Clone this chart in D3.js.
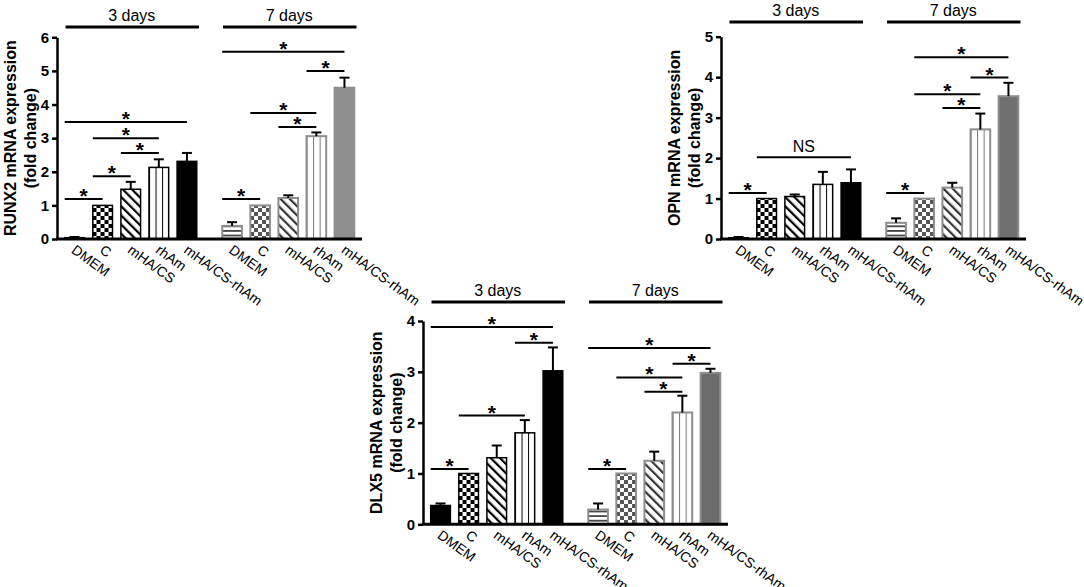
<!DOCTYPE html>
<html>
<head>
<meta charset="utf-8">
<script src="https://cdn.jsdelivr.net/npm/d3@7/dist/d3.min.js"></script>
<style>
  body { margin: 0; background: #fff; }
  text { font-family: "Liberation Sans", Arial, sans-serif; }
</style>
</head>
<body>
<svg id="chart" width="1084" height="587"></svg>
<script>
var CATEGORIES = ["DMEM", "C", "mHA/CS", "rhAm", "mHA/CS-rhAm"];
var GROUPS = ["3 days", "7 days"];

// RUNX2
var RUNX2_MEAN_3D = [0.04, 1.0, 1.48, 2.13, 2.31];
var RUNX2_ERR_3D  = [0.02, 0.0, 0.22, 0.24, 0.25];
var RUNX2_MEAN_7D = [0.39, 1.0, 1.22, 3.06, 4.50];
var RUNX2_ERR_7D  = [0.11, 0.0, 0.08, 0.11, 0.30];
var RUNX2_TICKS = [0, 1, 2, 3, 4, 5, 6];
var RUNX2_SIG = [
  ["3 days", "DMEM", "C", 1.19, "*"],
  ["3 days", "C", "mHA/CS", 1.87, "*"],
  ["3 days", "mHA/CS", "rhAm", 2.56, "*"],
  ["3 days", "C", "rhAm", 3.0, "*"],
  ["3 days", "DMEM", "mHA/CS-rhAm", 3.48, "*"],
  ["7 days", "DMEM", "C", 1.19, "*"],
  ["7 days", "mHA/CS", "rhAm", 3.33, "*"],
  ["7 days", "C", "rhAm", 3.75, "*"],
  ["7 days", "rhAm", "mHA/CS-rhAm", 5.0, "*"],
  ["7 days", "DMEM", "mHA/CS-rhAm", 5.57, "*"]
];

// OPN
var OPN_MEAN_3D = [0.03, 1.0, 1.05, 1.35, 1.39];
var OPN_ERR_3D  = [0.02, 0.0, 0.05, 0.31, 0.33];
var OPN_MEAN_7D = [0.40, 1.0, 1.27, 2.71, 3.53];
var OPN_ERR_7D  = [0.11, 0.0, 0.12, 0.39, 0.33];
var OPN_TICKS = [0, 1, 2, 3, 4, 5];
var OPN_SIG = [
  ["3 days", "DMEM", "C", 1.14, "*"],
  ["3 days", "C", "mHA/CS-rhAm", 2.02, "NS"],
  ["7 days", "DMEM", "C", 1.14, "*"],
  ["7 days", "mHA/CS", "rhAm", 3.24, "*"],
  ["7 days", "C", "rhAm", 3.58, "*"],
  ["7 days", "rhAm", "mHA/CS-rhAm", 3.99, "*"],
  ["7 days", "C", "mHA/CS-rhAm", 4.49, "*"]
];

// DLX5
var DLX5_MEAN_3D = [0.37, 1.0, 1.31, 1.80, 3.02];
var DLX5_ERR_3D  = [0.04, 0.0, 0.24, 0.25, 0.46];
var DLX5_MEAN_7D = [0.29, 1.0, 1.25, 2.20, 2.98];
var DLX5_ERR_7D  = [0.12, 0.0, 0.18, 0.33, 0.08];
var DLX5_TICKS = [0, 1, 2, 3, 4];
var DLX5_SIG = [
  ["3 days", "DMEM", "C", 1.09, "*"],
  ["3 days", "C", "rhAm", 2.14, "*"],
  ["3 days", "rhAm", "mHA/CS-rhAm", 3.57, "*"],
  ["3 days", "DMEM", "mHA/CS-rhAm", 3.88, "*"],
  ["7 days", "DMEM", "C", 1.09, "*"],
  ["7 days", "mHA/CS", "rhAm", 2.61, "*"],
  ["7 days", "C", "rhAm", 2.89, "*"],
  ["7 days", "rhAm", "mHA/CS-rhAm", 3.16, "*"],
  ["7 days", "DMEM", "mHA/CS-rhAm", 3.47, "*"]
];

var svg = d3.select("#chart");
var defs = svg.append("defs");

// ---- fill patterns ----
function checker(id, col) {
  var p = defs.append("pattern").attr("id", id)
    .attr("patternUnits", "userSpaceOnUse").attr("width", 8).attr("height", 8);
  p.append("rect").attr("width", 8).attr("height", 8).attr("fill", "#fff");
  p.append("rect").attr("width", 4).attr("height", 4).attr("fill", col);
  p.append("rect").attr("x", 4).attr("y", 4).attr("width", 4).attr("height", 4).attr("fill", col);
}
function diag(id, col) {
  var p = defs.append("pattern").attr("id", id)
    .attr("patternUnits", "userSpaceOnUse").attr("width", 6.5).attr("height", 6.5)
    .attr("patternTransform", "rotate(-45)");
  p.append("rect").attr("width", 6.5).attr("height", 6.5).attr("fill", "#fff");
  p.append("rect").attr("width", 2.2).attr("height", 6.5).attr("fill", col);
}
function vert(id, col) {
  var p = defs.append("pattern").attr("id", id)
    .attr("patternUnits", "objectBoundingBox").attr("width", 1 / 3).attr("height", 1);
  p.append("rect").attr("width", 40).attr("height", 1000).attr("fill", "#fff");
  p.append("rect").attr("x", -1).attr("width", 2).attr("height", 1000).attr("fill", col);
}
function horiz(id, col) {
  var p = defs.append("pattern").attr("id", id)
    .attr("patternUnits", "userSpaceOnUse").attr("width", 10).attr("height", 4.6);
  p.append("rect").attr("width", 10).attr("height", 4.6).attr("fill", "#fff");
  p.append("rect").attr("width", 10).attr("height", 1.8).attr("fill", col);
}
checker("chk3", "#000"); diag("dia3", "#000"); vert("ver3", "#000");
checker("chk7", "#555"); diag("dia7", "#333"); vert("ver7", "#777"); horiz("hor7", "#444");

var fills = {
  "3 days": ["#000", "url(#chk3)", "url(#dia3)", "url(#ver3)", "#000"],
  "7 days": ["url(#hor7)", "url(#chk7)", "url(#dia7)", "url(#ver7)", null]
};
var edge = { "3 days": "#000", "7 days": "#8e8e8e" };

function drawPanel(cfg) {
  var g = svg.append("g");
  var x0 = cfg.x0, W = 305;

  var y = d3.scaleLinear().domain([0, cfg.yMax]).range([cfg.yBottom, cfg.yTop]);
  var gx = d3.scaleBand().domain(GROUPS).range([x0 + 3.5, x0 + 301.5]).paddingInner(0.1083);
  var bx = d3.scaleBand().domain(CATEGORIES).range([0, gx.bandwidth()])
    .paddingInner(0.3).paddingOuter(0.15);
  var bw = bx.bandwidth();

  var sets = [
    { grp: "3 days", mean: cfg.mean3, err: cfg.err3 },
    { grp: "7 days", mean: cfg.mean7, err: cfg.err7 }
  ];

  sets.forEach(function(s) {
    var gg = g.append("g").attr("transform", "translate(" + gx(s.grp) + ",0)");
    var rows = CATEGORIES.map(function(c, i) { return { cat: c, i: i, v: s.mean[i], e: s.err[i] }; });
    gg.selectAll("rect.bar").data(rows).enter().append("rect")
      .attr("class", "bar")
      .attr("x", function(d) { return bx(d.cat); })
      .attr("y", function(d) { return y(d.v); })
      .attr("width", bw)
      .attr("height", function(d) { return y(0) - y(d.v); })
      .attr("fill", function(d) { return fills[s.grp][d.i] || cfg.lastGrey; })
      .attr("stroke", edge[s.grp])
      .attr("stroke-width", s.grp === "3 days" ? 1.5 : 2);

    var eb = gg.selectAll("g.err").data(rows.filter(function(d) { return d.e > 0; }))
      .enter().append("g").attr("class", "err");
    eb.append("line")
      .attr("x1", function(d) { return bx(d.cat) + bw / 2; })
      .attr("x2", function(d) { return bx(d.cat) + bw / 2; })
      .attr("y1", function(d) { return y(d.v); })
      .attr("y2", function(d) { return y(d.v + d.e); })
      .attr("stroke", "#000").attr("stroke-width", 2);
    eb.append("line")
      .attr("x1", function(d) { return bx(d.cat) + bw / 2 - 5; })
      .attr("x2", function(d) { return bx(d.cat) + bw / 2 + 5; })
      .attr("y1", function(d) { return y(d.v + d.e); })
      .attr("y2", function(d) { return y(d.v + d.e); })
      .attr("stroke", "#000").attr("stroke-width", 2);

    // x labels
    gg.selectAll("text.xl").data(rows).enter().append("text")
      .attr("class", "xl")
      .attr("transform", function(d) {
        return "translate(" + (bx(d.cat) + bw / 2 - 4) + "," + (cfg.yBottom + 13) + ") rotate(36)";
      })
      .attr("font-size", 14)
      .text(function(d) { return d.cat; });

    // group header
    g.append("line")
      .attr("x1", gx(s.grp) + 5).attr("x2", gx(s.grp) + gx.bandwidth() - 2)
      .attr("y1", cfg.headY).attr("y2", cfg.headY)
      .attr("stroke", "#000").attr("stroke-width", 3);
    g.append("text")
      .attr("x", gx(s.grp) + gx.bandwidth() / 2 + 1).attr("y", cfg.headY - 6)
      .attr("text-anchor", "middle").attr("font-size", 16)
      .text(s.grp);
  });

  // significance brackets
  var sig = g.selectAll("g.sig").data(cfg.sig).enter().append("g").attr("class", "sig");
  function sx1(d) { return gx(d[0]) + bx(d[1]); }
  function sx2(d) { return gx(d[0]) + bx(d[2]) + bw / 2; }
  sig.append("line")
    .attr("x1", sx1).attr("x2", sx2)
    .attr("y1", function(d) { return y(d[3]); })
    .attr("y2", function(d) { return y(d[3]); })
    .attr("stroke", "#000").attr("stroke-width", 2);
  sig.append("text")
    .attr("x", function(d) { return (sx1(d) + sx2(d)) / 2; })
    .attr("y", function(d) { return d[4] === "*" ? y(d[3]) + 4 : y(d[3]) - 5; })
    .attr("text-anchor", "middle")
    .attr("font-size", function(d) { return d[4] === "*" ? 21 : 16; })
    .attr("font-weight", function(d) { return d[4] === "*" ? "bold" : "normal"; })
    .text(function(d) { return d[4]; });

  // axes
  var ax = g.append("g").attr("transform", "translate(" + x0 + ",0)")
    .call(d3.axisLeft(y).tickValues(cfg.ticks).tickFormat(d3.format("d"))
      .tickSize(5).tickSizeOuter(0).tickPadding(3));
  ax.select(".domain").attr("stroke-width", 2.5);
  ax.selectAll(".tick line").attr("stroke-width", 2.5);
  ax.selectAll(".tick text").attr("font-size", 15).attr("font-weight", "bold")
    .attr("font-family", "Liberation Sans, Arial, sans-serif").attr("fill", "#000");

  g.append("line")
    .attr("x1", x0 - 1).attr("x2", x0 + W)
    .attr("y1", cfg.yBottom).attr("y2", cfg.yBottom)
    .attr("stroke", "#000").attr("stroke-width", 3);

  var midY = (cfg.yBottom + cfg.yTop) / 2;
  g.append("text")
    .attr("transform", "translate(" + (x0 - 41) + "," + midY + ") rotate(-90)")
    .attr("text-anchor", "middle").attr("font-size", 16).attr("font-weight", "bold")
    .text(cfg.title);
  g.append("text")
    .attr("transform", "translate(" + (x0 - 21) + "," + midY + ") rotate(-90)")
    .attr("text-anchor", "middle").attr("font-size", 16).attr("font-weight", "bold")
    .text("(fold change)");
}

drawPanel({
  title: "RUNX2 mRNA expression", x0: 57, yBottom: 239, yTop: 37.3, yMax: 6, headY: 27,
  ticks: RUNX2_TICKS, mean3: RUNX2_MEAN_3D, err3: RUNX2_ERR_3D,
  mean7: RUNX2_MEAN_7D, err7: RUNX2_ERR_7D, sig: RUNX2_SIG, lastGrey: "#8f8f8f"
});
drawPanel({
  title: "OPN mRNA expression", x0: 721, yBottom: 239, yTop: 36.7, yMax: 5, headY: 22,
  ticks: OPN_TICKS, mean3: OPN_MEAN_3D, err3: OPN_ERR_3D,
  mean7: OPN_MEAN_7D, err7: OPN_ERR_7D, sig: OPN_SIG, lastGrey: "#6f6f6f"
});
drawPanel({
  title: "DLX5 mRNA expression", x0: 423, yBottom: 524.3, yTop: 321, yMax: 4, headY: 302,
  ticks: DLX5_TICKS, mean3: DLX5_MEAN_3D, err3: DLX5_ERR_3D,
  mean7: DLX5_MEAN_7D, err7: DLX5_ERR_7D, sig: DLX5_SIG, lastGrey: "#6c6c6c"
});
</script>
</body>
</html>
